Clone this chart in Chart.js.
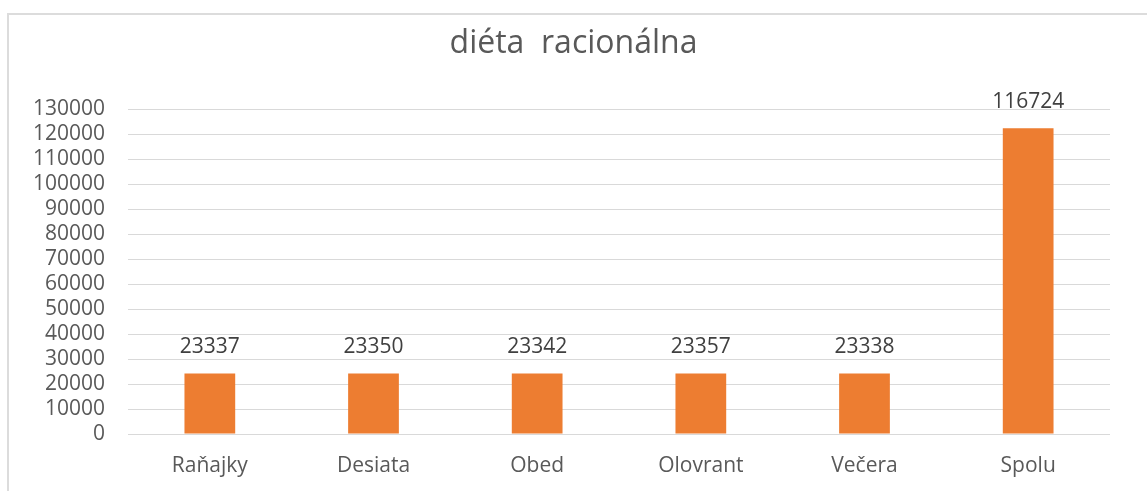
<!DOCTYPE html>
<html><head><meta charset="utf-8">
<script src="https://cdn.jsdelivr.net/npm/chart.js@4.4.1/dist/chart.umd.min.js"></script>
<style>
html,body{margin:0;padding:0;background:#fff;width:1147px;height:491px;overflow:hidden}
#frame{position:absolute;left:7px;top:13px;width:1200px;height:600px;border:2px solid #dcdcdc;box-sizing:border-box}
#wrap{position:absolute;left:0;top:0;width:1147px;height:491px}
</style></head><body>
<div id="frame"></div>
<div id="wrap"><canvas id="c" width="1147" height="491"></canvas></div>
<script>
const categories = ['Raňajky','Desiata','Obed','Olovrant','Večera','Spolu'];
const barValues = [24250, 24250, 24250, 24250, 24250, 122500];
const valueLabels = ['23337','23350','23342','23357','23338','116724'];
const yMin = 0, yMax = 130000, yStep = 10000;
const FONT = "'Open Sans', 'Liberation Sans', sans-serif";

const labelPlugin = {
  id: 'valueLabels',
  afterDatasetsDraw(chart) {
    const ctx = chart.ctx;
    const meta = chart.getDatasetMeta(0);
    ctx.save();
    ctx.font = '21px ' + FONT;
    ctx.fillStyle = '#404040';
    ctx.textAlign = 'center';
    ctx.textBaseline = 'middle';
    meta.data.forEach((bar, i) => {
      ctx.fillText(valueLabels[i], bar.x, bar.y - 26);
    });
    ctx.restore();
  }
};

new Chart(document.getElementById('c'), {
  type: 'bar',
  data: {
    labels: categories,
    datasets: [{
      data: barValues,
      backgroundColor: '#ED7D31',
      borderWidth: 0,
      barPercentage: 0.31,
      categoryPercentage: 1
    }]
  },
  options: {
    responsive: false,
    animation: false,
    layout: { padding: { left: 0, right: 0, top: 0, bottom: 0 } },
    plugins: {
      legend: { display: false },
      tooltip: { enabled: false },
      title: {
        display: true,
        text: 'diéta  racionálna',
        color: '#595959',
        font: { family: FONT, size: 32, weight: 'normal' },
        padding: { top: 25, bottom: 46 }
      }
    },
    scales: {
      x: {
        afterFit(scale) { scale.height = 57; },
        grid: { display: false, drawTicks: false },
        border: { display: false },
        ticks: { color: '#595959', font: { family: FONT, size: 21 }, padding: 19 }
      },
      y: {
        min: yMin, max: yMax,
        afterFit(scale) { scale.width = 128; },
        grid: { color: '#d9d9d9', lineWidth: 1, drawTicks: false },
        border: { display: false },
        ticks: {
          stepSize: yStep, autoSkip: false, color: '#595959',
          font: { family: FONT, size: 21 }, padding: 23,
          callback: (v) => String(v)
        }
      },
      yRight: {
        position: 'right',
        display: true,
        afterFit(scale) { scale.width = 37; },
        grid: { display: false, drawTicks: false },
        border: { display: false },
        ticks: { display: false }
      }
    }
  },
  plugins: [labelPlugin]
});
</script>
</body></html>
